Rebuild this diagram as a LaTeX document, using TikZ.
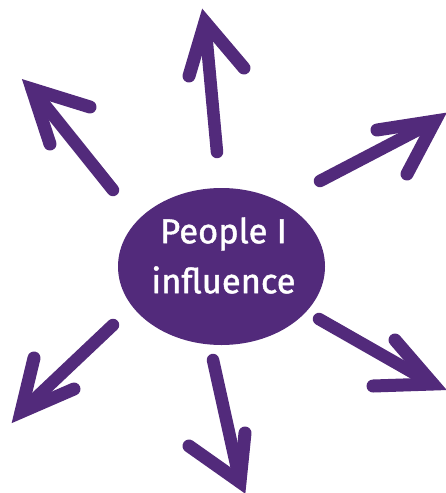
\documentclass[tikz,border=0pt]{standalone}
\usepackage{fontspec}
\setmainfont{Fira Sans}
\newfontfamily\labelfont{Fira Sans}[FakeBold=1.3]
\usetikzlibrary{shapes.geometric}
\definecolor{grape}{HTML}{522A7B}

\tikzset{
    blob/.style={ellipse, fill=grape, inner sep=0pt,
        minimum width=207pt, minimum height=157pt},
    caption/.style={text=white, align=center,
        font=\labelfont\fontsize{34.5}{50}\selectfont},
    brush/.style={draw=grape, line width=12.5pt, line cap=round},
    barb/.style={draw=grape, line width=13pt, line cap=round, line join=miter}
}

\begin{document}
\begin{tikzpicture}[x=1pt, y=-1pt]
    \useasboundingbox (0,0) rectangle (446,493);

    % Centre ellipse
    \node[blob] (people) at (221.5,266.5) {};
    \node[caption] (caption) at ([xshift=2pt, yshift=11pt]people.center) {People I\\influence};

    % Arrow ends (tail, tip, two barbs)
    \coordinate (up-tail) at (217,152);
    \coordinate (up-tip) at (205,22);
    \coordinate (up-a) at (189,76);
    \coordinate (up-b) at (244,68);

    \coordinate (ul-tail) at (113,190);
    \coordinate (ul-tip) at (32,89);
    \coordinate (ul-a) at (50,144);
    \coordinate (ul-b) at (90,107);

    \coordinate (ur-tail) at (320,181);
    \coordinate (ur-tip) at (435,121);
    \coordinate (ur-a) at (377,130);
    \coordinate (ur-b) at (407,174);

    \coordinate (lr-tail) at (319,319);
    \coordinate (lr-tip) at (433,384);
    \coordinate (lr-a) at (395,340);
    \coordinate (lr-b) at (373,386);

    \coordinate (dn-tail) at (213,360);
    \coordinate (dn-tip) at (240,482);
    \coordinate (dn-a) at (189,446);
    \coordinate (dn-b) at (245,433);

    \coordinate (ll-tail) at (113,325);
    \coordinate (ll-tip) at (21,412);
    \coordinate (ll-a) at (34,358);
    \coordinate (ll-b) at (74,389);

    % Arrows
    \foreach \d in {up,ul,ur,lr,dn,ll} {
        \draw[brush] (\d-tail) -- (\d-tip);
        \draw[barb] (\d-a) -- (\d-tip) -- (\d-b);
    }
\end{tikzpicture}
\end{document}
